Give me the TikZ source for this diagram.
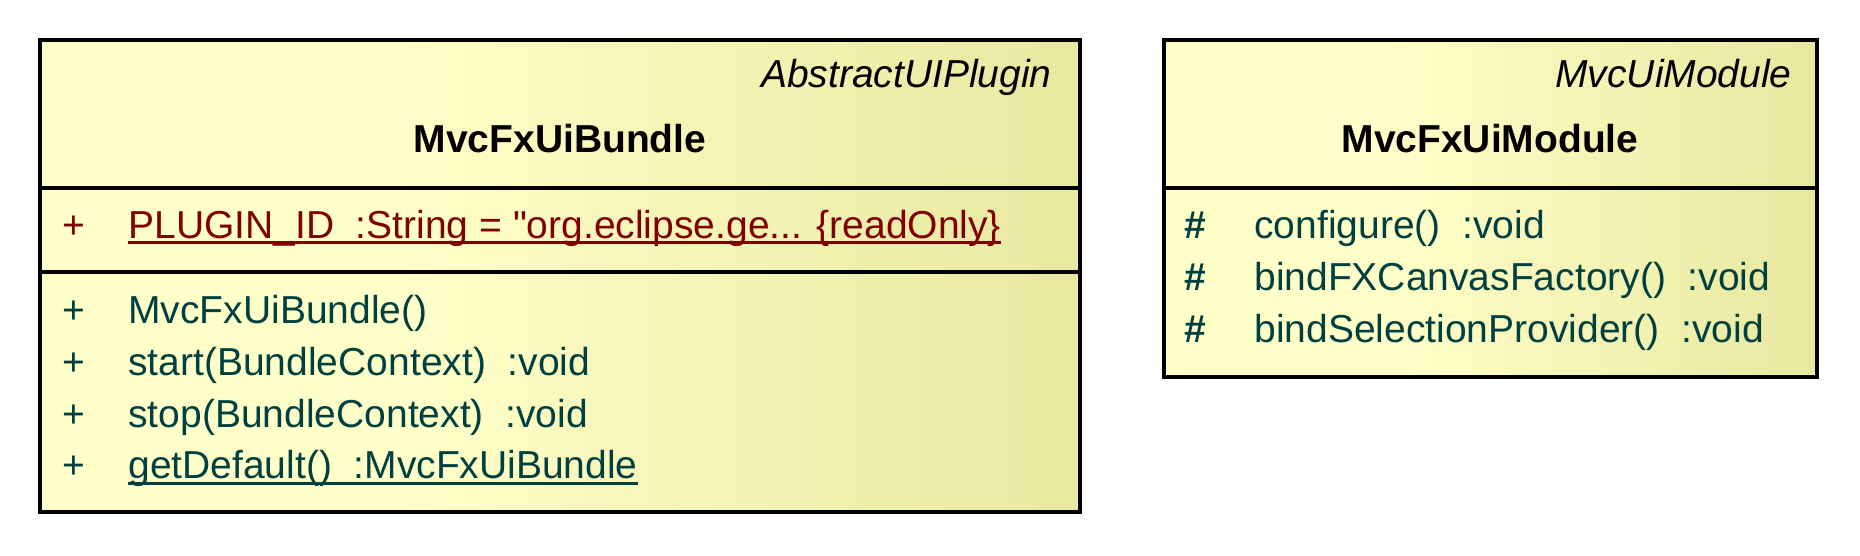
\documentclass[tikz,border=0pt]{standalone}
\usepackage{fontspec}
\setmainfont{Liberation Sans}
\usepackage{xcolor}
\usetikzlibrary{positioning}
\definecolor{ClassFillA}{RGB}{255,255,202}
\definecolor{ClassFillB}{RGB}{232,232,160}
\definecolor{MemberTeal}{RGB}{0,64,64}
\definecolor{StaticRed}{RGB}{128,0,0}
\pgfdeclarehorizontalshading{classshade}{100bp}{color(0bp)=(ClassFillA); color(25bp)=(ClassFillA); color(42bp)=(ClassFillA); color(75bp)=(ClassFillB); color(100bp)=(ClassFillB)}

\begin{document}
\begin{tikzpicture}[
    x=0.5pt, y=-0.5pt,
    compart/.style={rectangle, draw=black, line width=1.8pt, shade, shading=classshade, outer sep=0pt, inner sep=0pt},
    stereo/.style={font=\fontsize{19.5}{23}\selectfont\itshape, anchor=base east, inner sep=0pt},
    classname/.style={font=\fontsize{19.5}{23}\selectfont\bfseries, anchor=base, inner sep=0pt},
    member/.style={font=\fontsize{19.5}{23}\selectfont, text=MemberTeal, anchor=base west, inner sep=0pt},
    prot/.style={member, font=\fontsize{19.5}{23}\selectfont\bfseries},
    static/.style={member, text=StaticRed},
    ul/.style={line width=1.5pt}
]
\useasboundingbox (0,0) rectangle (1860,556);

\node[compart, minimum width=520pt, minimum height=74pt, anchor=north west] (bundlehead) at (40,40) {};
\node[compart, minimum width=520pt, minimum height=42pt, below=0pt of bundlehead] (bundleattr) {};
\node[compart, minimum width=520pt, minimum height=120pt, below=0pt of bundleattr] (bundleops) {};

\node[stereo] (bundlestereo) at (1052,88) {AbstractUIPlugin};
\node[classname] (bundlename) at (560,153) {MvcFxUiBundle};

\node[static] (pluginvis) at (62,238) {+};
\node[static] (pluginid) at (128,238) {PLUGIN\_ID~~:String = \textquotedbl org.eclipse.ge... \{readOnly\}};
\draw[ul, StaticRed] ([yshift=-2.5pt]pluginid.base west) -- ([yshift=-2.5pt]pluginid.base east);

\node[member] (ctorvis) at (62,323) {+};
\node[member] (ctor) at (128,323) {MvcFxUiBundle()};
\node[member] (startvis) at (62,375) {+};
\node[member] (start) at (128,375) {start(BundleContext)~~:void};
\node[member] (stopvis) at (62,427) {+};
\node[member] (stop) at (128,427) {stop(BundleContext)~~:void};
\node[member] (defaultvis) at (62,478) {+};
\node[member] (default) at (128,478) {getDefault()~~:MvcFxUiBundle};
\draw[ul, MemberTeal] ([yshift=-2.5pt]default.base west) -- ([yshift=-2.5pt]default.base east);

\node[compart, minimum width=326.5pt, minimum height=74pt, anchor=north west] (modulehead) at (1164,40) {};
\node[compart, minimum width=326.5pt, minimum height=94.5pt, below=0pt of modulehead] (moduleops) {};

\node[stereo] (modulestereo) at (1792,88) {MvcUiModule};
\node[classname] (modulename) at (1490,153) {MvcFxUiModule};

\node[prot] (configvis) at (1184,238) {\#};
\node[member] (config) at (1254,238) {configure()~~:void};
\node[prot] (canvasvis) at (1184,290) {\#};
\node[member] (canvas) at (1254,290) {bindFXCanvasFactory()~~:void};
\node[prot] (selvis) at (1184,342) {\#};
\node[member] (sel) at (1254,342) {bindSelectionProvider()~~:void};
\end{tikzpicture}
\end{document}
